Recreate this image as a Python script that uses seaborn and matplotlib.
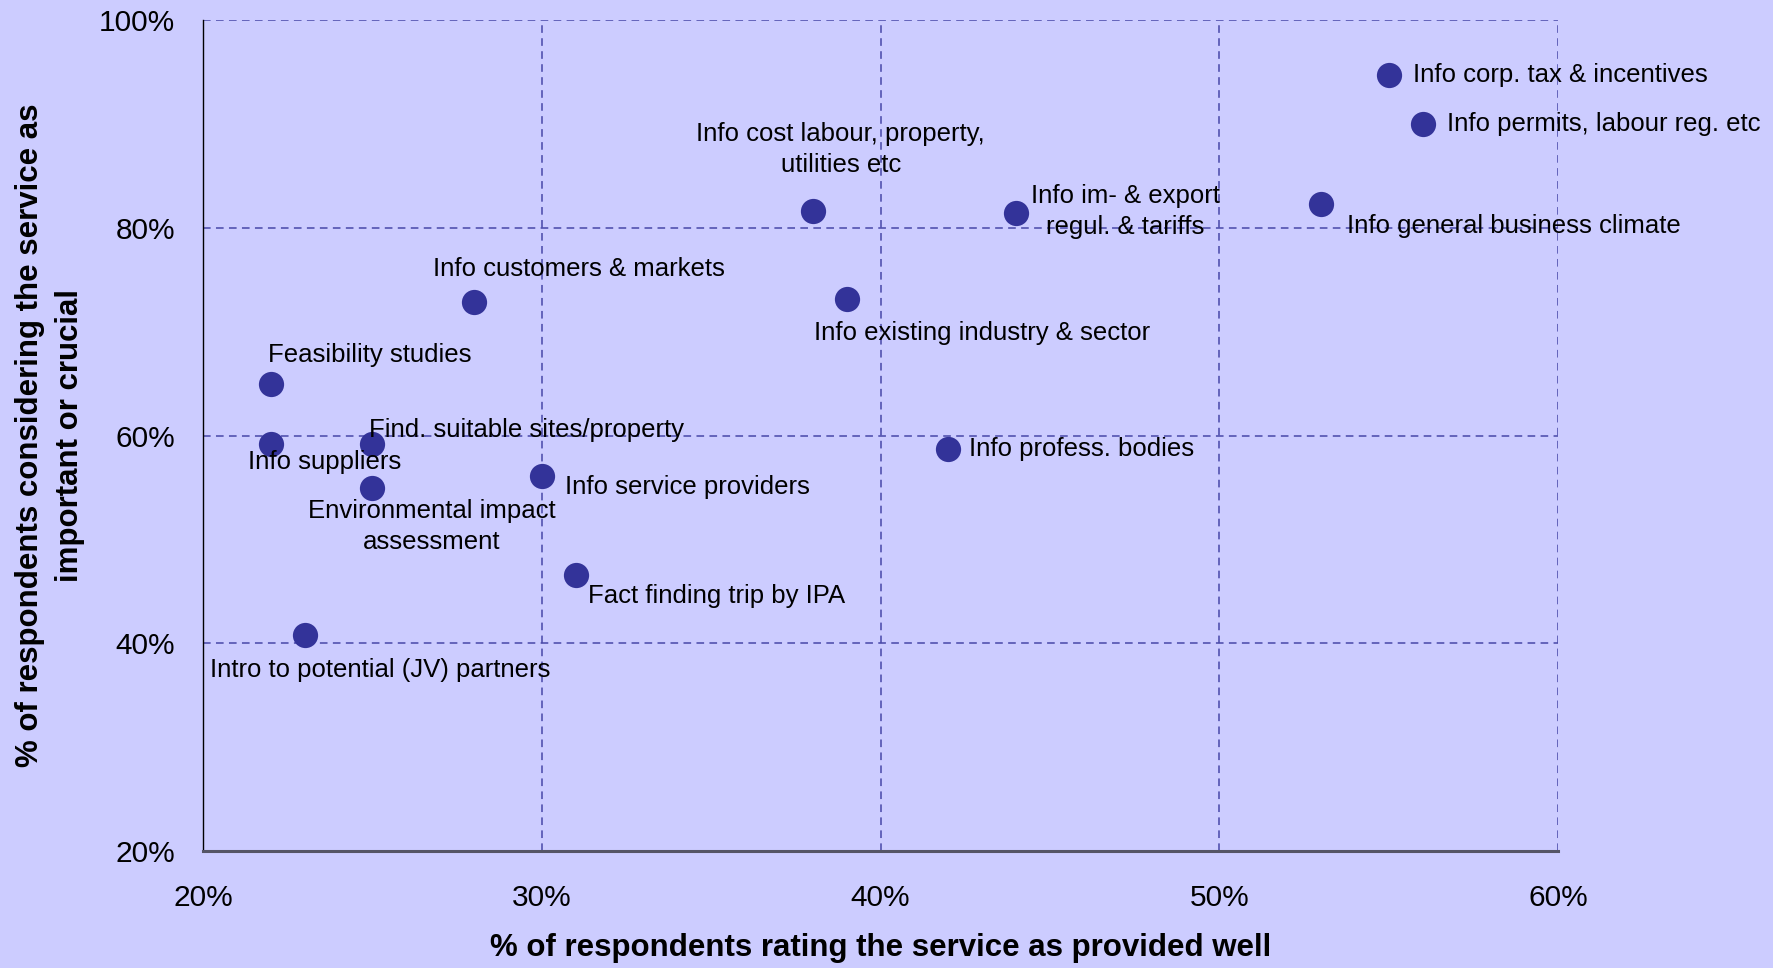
import matplotlib
matplotlib.use("Agg")
import matplotlib.pyplot as plt
import seaborn as sns
import pandas as pd
from matplotlib.ticker import FuncFormatter, MultipleLocator

# Services: share rating the service as provided well (x) vs share considering it important (y)
services = [
    "Info corp. tax & incentives",
    "Info permits, labour reg. etc",
    "Info general business climate",
    "Info im- & export\nregul. & tariffs",
    "Info cost labour, property,\nutilities etc",
    "Info existing industry & sector",
    "Info customers & markets",
    "Feasibility studies",
    "Info suppliers",
    "Find. suitable sites/property",
    "Environmental impact\nassessment",
    "Info service providers",
    "Fact finding trip by IPA",
    "Intro to potential (JV) partners",
    "Info profess. bodies",
]
provided_well = [55, 56, 53, 44, 38, 39, 28, 22, 22, 25, 25, 30, 31, 23, 42]
important = [94.7, 90.0, 82.3, 81.4, 81.6, 73.1, 72.9, 65.0, 59.2, 59.2, 54.9, 56.1, 46.6, 40.8, 58.7]

# Label placement: offset in pixels from the marker, plus horizontal alignment
label_offsets = [
    (24, 0, "left"), (24, 0, "left"), (26, -22, "left"), (109, 2, "center"),
    (28, 62, "center"), (-33, -34, "left"), (-41, 33, "left"), (-3, 29, "left"),
    (-23, -18, "left"), (-3, 14, "left"), (59, -38, "center"), (23, -11, "left"),
    (12, -21, "left"), (-95, -35, "left"), (21, 0, "left"),
]

df = pd.DataFrame({"service": services, "well": provided_well, "important": important})

BG = "#CCCCFF"
MARK = "#333399"
GRID = "#4848A8"

sns.set_style("white")
plt.rcParams["font.family"] = ["Liberation Sans", "DejaVu Sans"]

fig = plt.figure(figsize=(17.74, 9.68), dpi=100, facecolor=BG)
ax = fig.add_axes([0.1144, 0.1209, 0.8783 - 0.1144, 0.9793 - 0.1209])
ax.set_facecolor(BG)

sns.scatterplot(data=df, x="well", y="important", ax=ax, s=330, color=MARK,
                edgecolor=MARK, linewidth=0, zorder=3, legend=False)

for name, x, y, (dx, dy, ha) in zip(services, provided_well, important, label_offsets):
    ax.annotate(name, (x, y), xytext=(dx, dy), textcoords="offset pixels",
                ha=ha, va="center", multialignment="center", linespacing=1.38,
                fontsize=18.5, color="black", zorder=4)

ax.set_xlim(20, 60)
ax.set_ylim(20, 100)
ax.xaxis.set_major_locator(MultipleLocator(10))
ax.yaxis.set_major_locator(MultipleLocator(20))
pct = FuncFormatter(lambda v, _: f"{v:.0f}%")
ax.xaxis.set_major_formatter(pct)
ax.yaxis.set_major_formatter(pct)

ax.grid(True, linestyle=(0, (5, 3.5)), color=GRID, linewidth=1.1, zorder=1)
ax.set_axisbelow(True)

for side in ["top", "right"]:
    ax.spines[side].set_visible(False)
ax.spines["left"].set_color("black")
ax.spines["left"].set_linewidth(1.0)
ax.spines["bottom"].set_color("#555566")
ax.spines["bottom"].set_linewidth(2.2)

ax.tick_params(axis="y", direction="out", length=8, width=1.5, color="#666666",
               labelsize=21.5, pad=12, labelcolor="black")
ax.tick_params(axis="x", direction="out", length=9, width=1.5, color="#555566",
               labelsize=21.5, pad=15, labelcolor="black")

ax.set_xlabel("% of respondents rating the service as provided well",
              fontsize=22.5, fontweight="bold", labelpad=15, color="black")
ax.set_ylabel("% of respondents considering the service as\nimportant or crucial",
              fontsize=22.5, fontweight="bold", labelpad=10, color="black",
              linespacing=1.45)

fig.savefig("out.png", dpi=100, facecolor=BG)
